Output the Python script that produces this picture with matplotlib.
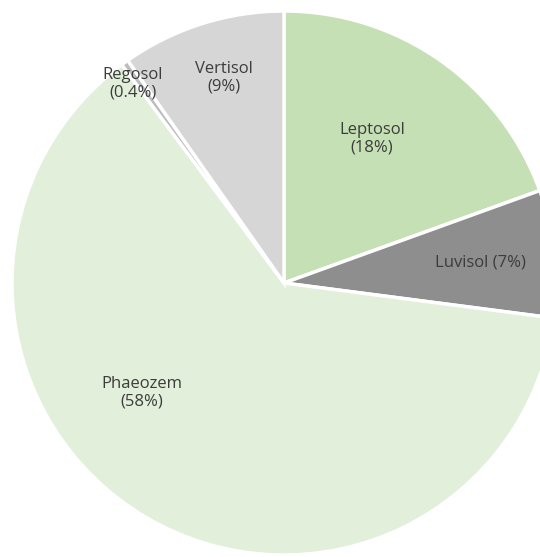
import numpy as np
import matplotlib.pyplot as plt

soils = ['Leptosol', 'Luvisol', 'Phaeozem', 'Regosol', 'Vertisol']
shares = [18, 7, 58, 0.4, 9]
share_text = ['18%', '7%', '58%', '0.4%', '9%']

colors = ['#c5e0b4', '#8e8e8e', '#e2efda', '#bdbdbd', '#d6d6d6']
# label spots: angle (deg) and distance as fraction of the radius
label_ang = [58.6, 6.1, 217.8, 127.1, 106.3]
label_dist = [0.62, 0.725, 0.66, 0.92, 0.785]
one_line = ['Luvisol']

fig = plt.figure(figsize=(5.4, 5.57), dpi=100)
ax = fig.add_axes([0, 0, 1, 1])

cx, cy, r = 284, 557 - 283, 272
ax.pie(shares, colors=colors, startangle=90, counterclock=False,
       center=(cx, cy), radius=r,
       wedgeprops=dict(edgecolor='white', linewidth=2.5))

for name, pct, a, d in zip(soils, share_text, label_ang, label_dist):
    sep = ' ' if name in one_line else '\n'
    x = cx + d * r * np.cos(np.radians(a))
    y = cy + d * r * np.sin(np.radians(a))
    ax.text(x, y, name + sep + '(' + pct + ')', ha='center', va='center',
            fontsize=12, family='Open Sans', color='#3c3c3c', linespacing=1.12)

ax.set_xlim(0, 540)
ax.set_ylim(0, 557)
ax.set_aspect('equal')
ax.axis('off')
fig.savefig('out.png', dpi=100)
